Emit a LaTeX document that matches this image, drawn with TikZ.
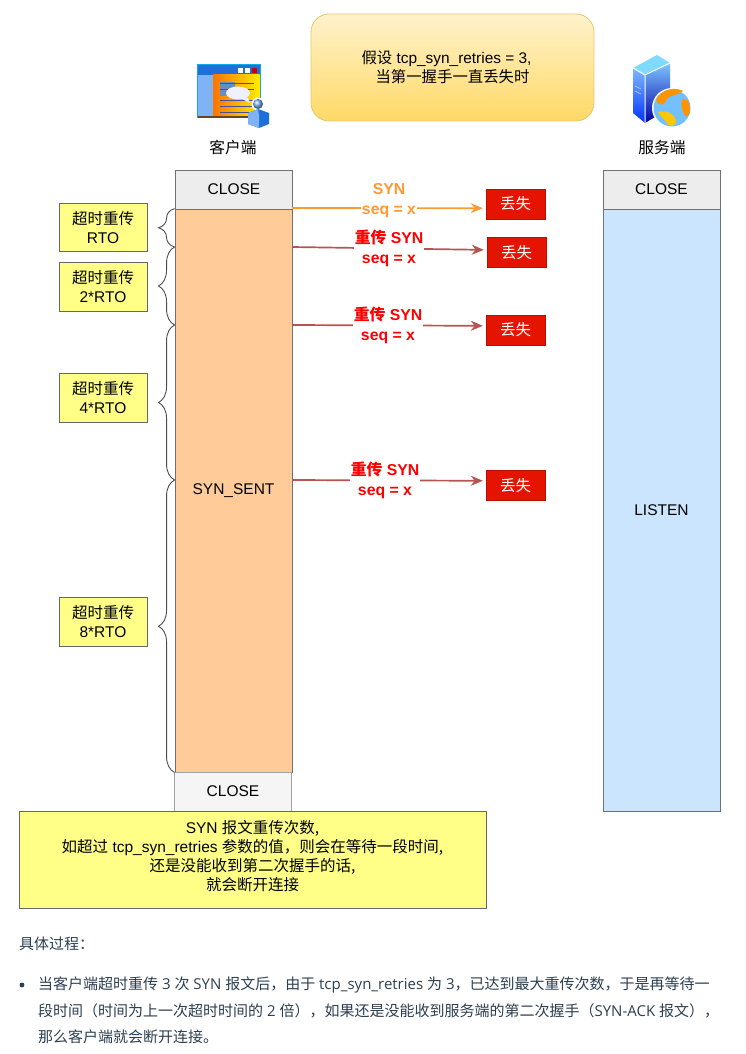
\documentclass[tikz,border=0pt]{standalone}
\usepackage{fontspec}
\setmainfont{Liberation Sans}
\newfontfamily\cjk{Noto Sans CJK SC}
\newfontfamily\bodyfont{Open Sans}
\newcommand{\zh}[1]{{\cjk #1}}
\usetikzlibrary{arrows.meta,decorations.pathreplacing}
\definecolor{edgegray}{HTML}{707070}
\definecolor{darkline}{HTML}{4A4D50}
\definecolor{notefill}{HTML}{FFFF88}
\definecolor{sentfill}{HTML}{FFCC99}
\definecolor{listenfill}{HTML}{CCE5FF}
\definecolor{lostred}{HTML}{E51400}
\definecolor{resend}{HTML}{B85450}
\definecolor{synorange}{HTML}{FF9933}
\definecolor{bodytext}{HTML}{2C3E50}
\definecolor{topfill}{HTML}{FFF2CC}
\definecolor{botfill}{HTML}{FFD966}
\definecolor{topedge}{HTML}{E0C870}
\definecolor{iconblue}{HTML}{1E6FD9}
\definecolor{iconpanel}{HTML}{7FB3F5}
\begin{document}
\begin{tikzpicture}[x=1pt,y=-1pt,
    statebox/.style={draw=edgegray,line width=0.9pt,fill=#1,minimum width=117pt,inner sep=0pt,font=\fontsize{15.5}{18}\selectfont},
    lost/.style={fill=lostred,draw=lostred!80!black,minimum width=59pt,minimum height=30pt,inner sep=0pt,text=white,font=\cjk\fontsize{15.5}{18}\selectfont},
    note/.style={draw=darkline!85,line width=0.9pt,fill=notefill,minimum width=88pt,minimum height=49pt,inner sep=0pt,align=center,font=\fontsize{15.5}{19}\selectfont},
    msg/.style={fill=white,inner sep=1pt,align=center,font=\bfseries\fontsize{15.8}{20}\selectfont},
    send/.style={line width=1.7pt,resend,-{Stealth[length=12pt,width=10pt]},shorten >=3pt},
    para/.style={anchor=west,inner sep=0pt,text=bodytext,font=\bodyfont\fontsize{15}{18}\selectfont}]
  \useasboundingbox (0,0) rectangle (746,1054);
  % the assumption on top
  \node[draw=topedge,line width=0.8pt,rounded corners=18pt,top color=topfill,bottom color=botfill,
        minimum width=283pt,minimum height=107pt,inner sep=0pt,align=center,font=\fontsize{15.4}{19}\selectfont] (topnote) at (452.5,67.5)
        {\zh{假设} tcp\_syn\_retries = 3,\rule{12pt}{0pt}\\ \zh{当第一握手一直丢失时}};
  % client icon
  \fill[iconblue!60!cyan] (196.5,64.5) rectangle (260.5,118);
  \fill[iconblue] (197.5,65.5) rectangle (259.5,75);
  \fill[iconpanel] (197.5,75) rectangle (213,116);
  \shade[left color=orange!90!red,right color=yellow!85!orange] (213,75) rectangle (259.5,116);
  \fill[black!45!brown] (197.5,116) rectangle (259.5,118);
  \fill[iconpanel!80!black] (220,82) rectangle (235,96);
  \foreach \y in {83,89,100,106,112}{ \draw[blue!40!black!70,line width=1pt] (220,\y+0.5) -- (254,\y+0.5); }
  \foreach \x in {238,245}{ \fill[white] (\x,68) rectangle (\x+5,73); }
  \fill[red!80!black] (252,68) rectangle (257,73);
  \fill[blue!6!white] (238,93) ellipse (12 and 6.5);
  \fill[blue!6!white] (240,98) -- (248,98) -- (250,103) -- cycle;
  \fill[white] (258,104) circle (6.5);
  \shade[ball color=iconpanel] (258,104) circle (5);
  \fill[iconblue] (248,113) -- (258,109) -- (269,113) -- (269,124) -- (259,128) -- (248,124) -- cycle;
  \fill[iconpanel] (248,113) -- (258,109) -- (259,116) -- (259,128) -- (248,124) -- cycle;
  \node[font=\cjk\fontsize{15.7}{18}\selectfont,inner sep=0pt] (client) at (233,148) {客户端};
  % server icon
  \fill[blue!30!cyan!50] (633,68) -- (657,55) -- (670,63) -- (645,75) -- cycle;
  \shade[top color=cyan!45!blue!50,bottom color=blue!80!cyan] (633,68) -- (645,75) -- (645,123) -- (633,113) -- cycle;
  \shade[top color=blue!45!cyan!50,bottom color=blue!65!black] (645,75) -- (670,63) -- (670,108) -- (645,123) -- cycle;
  \draw[white,line width=1pt] (633,68) -- (645,75) -- (670,63) (645,75) -- (645,123);
  \draw[white!75!blue,line width=0.8pt] (635,86) -- (641,89) (635,91) -- (641,94);
  \fill[white] (672,108) circle (20);
  \fill[blue!45!cyan!55] (672,108) circle (18.5);
  \fill[orange!85!yellow] (656,100) .. controls (662,88) and (676,87) .. (683,91) .. controls (678,96) and (668,94) .. (666,101) .. controls (664,106) and (658,106) .. (656,100);
  \fill[orange!85!yellow] (682,100) .. controls (688,96) and (690,104) .. (690,110) .. controls (690,116) and (686,119) .. (684,114) .. controls (682,110) and (680,104) .. (682,100);
  \fill[yellow!60!orange] (658,112) .. controls (668,110) and (674,114) .. (676,120) .. controls (678,126) and (668,128) .. (666,122) .. controls (664,118) and (660,117) .. (658,112);
  \node[font=\cjk\fontsize{15.7}{18}\selectfont,inner sep=0pt] (server) at (662,148) {服务端};
  % the two timelines
  \node[statebox=black!7,minimum height=39pt,minimum width=117pt] (close1) at (234,189.5) {CLOSE};
  \node[statebox=sentfill,minimum height=563pt] (sent) at (233.5,490.5) {SYN\_SENT};
  \node[statebox=black!4,draw=edgegray!65,minimum height=39pt] (close2) at (233,791.5) {CLOSE};
  \node[statebox=black!7,minimum height=39pt] (close3) at (661.5,189.5) {CLOSE};
  \node[statebox=listenfill,minimum height=602pt] (listen) at (661.5,510) {LISTEN};
  % retransmission points
  \coordinate (s1) at (292,208);
  \coordinate (s2) at (292,247);
  \coordinate (s3) at (292,325);
  \coordinate (s4) at (292,480);
  \node[lost] (lost1) at (515.5,204) {丢失};
  \node[lost] (lost2) at (516.5,252.5) {丢失};
  \node[lost] (lost3) at (515.5,330) {丢失};
  \node[lost] (lost4) at (515.5,485.5) {丢失};
  \draw[send,synorange] (s1) -- (lost1.188);
  \draw[send] (s2) -- (lost2.175);
  \draw[send] (s3) -- (lost3.172);
  \draw[send] (s4) -- (lost4.171);
  \node[msg,text=synorange] (syn1) at (389,200.5) {SYN\\seq = x};
  \node[msg,text=red] (syn2) at (389,248) {\zh{重传} SYN\\seq = x};
  \node[msg,text=red] (syn3) at (388,325.5) {\zh{重传} SYN\\seq = x};
  \node[msg,text=red] (syn4) at (385,480.5) {\zh{重传} SYN\\seq = x};
  % timeout notes and their braces
  \node[note,minimum height=48pt] (rto1) at (103,227.5) {\zh{超时重传}\\RTO};
  \node[note] (rto2) at (103,286.5) {\zh{超时重传}\\2*RTO};
  \node[note] (rto3) at (103,397.5) {\zh{超时重传}\\4*RTO};
  \node[note] (rto4) at (103,621.5) {\zh{超时重传}\\8*RTO};
  \coordinate (b1) at (sent.north west);
  \coordinate (b5) at (sent.south west);
  \coordinate (b2) at (sent.west |- s2);
  \coordinate (b3) at (sent.west |- s3);
  \coordinate (b4) at (sent.west |- s4);
  \foreach \a/\b in {b2/b1,b3/b2,b4/b3,b5/b4}{
    \draw[darkline,line width=0.9pt,decorate,decoration={brace,amplitude=16pt}] (\a) -- (\b);
  }
  % closing note
  \node[note,minimum width=467pt,minimum height=97pt] (closing) at (252.5,859.5)
        {SYN \zh{报文重传次数,}\\ \zh{如超过} tcp\_syn\_retries \zh{参数的值，则会在等待一段时间,}\\ \zh{还是没能收到第二次握手的话,}\\ \zh{就会断开连接}\rule[-8pt]{0pt}{0pt}};
  % text below the picture
  \node[para] (head) at (19,944) {\zh{具体过程：}};
  \fill[bodytext] (22,985) circle (2.4);
  \node[para] (line1) at (38,985) {\zh{当客户端超时重传} 3 \zh{次} SYN \zh{报文后，由于} tcp\_syn\_retries \zh{为} 3\zh{，已达到最大重传次数，于是再等待一}};
  \node[para] (line2) at (38,1011) {\zh{段时间（时间为上一次超时时间的} 2 \zh{倍），如果还是没能收到服务端的第二次握手（}SYN-ACK \zh{报文），}};
  \node[para] (line3) at (38,1037) {\zh{那么客户端就会断开连接。}};
\end{tikzpicture}
\end{document}
